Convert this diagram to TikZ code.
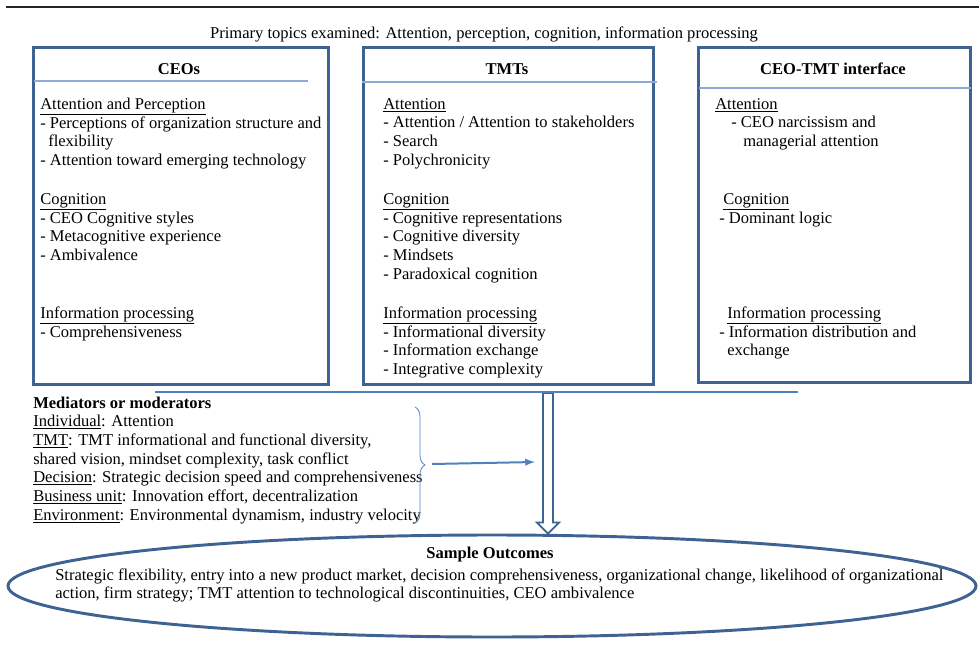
\documentclass[tikz,border=0pt]{standalone}
\usepackage{fontspec}
\setmainfont{Liberation Serif}
\usetikzlibrary{arrows,shapes.geometric,calc,decorations.pathreplacing}

\definecolor{boxblue}{RGB}{62,98,145}
\definecolor{rulelight}{RGB}{140,172,214}
\definecolor{linkblue}{RGB}{79,129,189}

\newcommand{\topic}[1]{\underline{#1}}
\newcommand{\itemsblock}[1]{\begin{tabular}[t]{@{}l@{}}#1\end{tabular}}

\tikzset{
  panel/.style={draw=boxblue, line width=2pt, anchor=north west, inner sep=0pt},
  head/.style={font=\fontsize{12.4}{14}\selectfont\bfseries, anchor=base, inner sep=0pt},
  body/.style={font=\fontsize{12.4}{14}\selectfont, anchor=base west, inner sep=0pt},
  sep/.style={draw=rulelight, line width=1.2pt},
  link/.style={draw=linkblue, line width=1.5pt},
}

\begin{document}
\begin{tikzpicture}[x=0.75pt, y=-0.75pt]
\useasboundingbox (0,0) rectangle (979,654);

\draw[line width=0.8pt, black!85] (6,7) -- (979,7);
\node[body, anchor=base] (topics) at (484,38) {Primary topics examined: Attention, perception, cognition, information processing};

% the three panels
\node[panel, minimum width=221.25pt, minimum height=252.75pt] (ceo) at (32,46) {};
\node[panel, minimum width=217.5pt, minimum height=252.75pt] (tmt) at (362,46) {};
\node[panel, minimum width=204pt, minimum height=251.25pt] (ctif) at (697,46) {};

\node[head] (ceoh) at (179,74) {CEOs};
\node[head] (tmth) at (507,74) {TMTs};
\node[head] (ctifh) at (833,74) {CEO-TMT interface};
\draw[sep] (34,81) -- (308,81);
\draw[sep] (362,82) -- (657,82);
\draw[sep] (699,88) -- (971,88);

% CEOs
\node[body] (ceo1) at (40,109) {\itemsblock{\topic{Attention and Perception}\\- Perceptions of organization structure and\\\hspace*{6pt}flexibility\\- Attention toward emerging technology}};
\node[body] (ceo2) at (40,204) {\itemsblock{\topic{Cognition}\\- CEO Cognitive styles\\- Metacognitive experience\\- Ambivalence}};
\node[body] (ceo3) at (40,318) {\itemsblock{\topic{Information processing}\\- Comprehensiveness}};

% TMTs
\node[body] (tmt1) at (383,109) {\itemsblock{\topic{Attention}\\- Attention / Attention to stakeholders\\- Search\\- Polychronicity}};
\node[body] (tmt2) at (383,204) {\itemsblock{\topic{Cognition}\\- Cognitive representations\\- Cognitive diversity\\- Mindsets\\- Paradoxical cognition}};
\node[body] (tmt3) at (383,318) {\itemsblock{\topic{Information processing}\\- Informational diversity\\- Information exchange\\- Integrative complexity}};

% CEO-TMT interface
\node[body] (ctif1) at (715,109) {\itemsblock{\topic{Attention}\\\hspace*{12pt}- CEO narcissism and\\\hspace*{21pt}managerial attention}};
\node[body] (ctif2) at (719,204) {\itemsblock{\hspace*{3pt}\topic{Cognition}\\- Dominant logic}};
\node[body] (ctif3) at (719,318) {\itemsblock{\hspace*{6pt}\topic{Information processing}\\- Information distribution and\\\hspace*{6pt}exchange}};

% mediators
\node[body] (med) at (33,408) {\itemsblock{\textbf{Mediators or moderators}\\\topic{Individual}: Attention\\\topic{TMT}: TMT informational and functional diversity,\\shared vision, mindset complexity, task conflict\\\topic{Decision}: Strategic decision speed and comprehensiveness\\\topic{Business unit}: Innovation effort, decentralization\\\topic{Environment}: Environmental dynamism, industry velocity}};

% outcomes
\node[draw=boxblue, line width=2.2pt, ellipse, minimum width=726pt, minimum height=76.5pt, inner sep=0pt] (outc) at (492,586) {};
\node[head] (outch) at (490,558) {Sample Outcomes};
\node[body] (outct) at (55,580) {\itemsblock{Strategic flexibility, entry into a new product market, decision comprehensiveness, organizational change, likelihood of organizational\\action, firm strategy; TMT attention to technological discontinuities, CEO ambivalence}};

\coordinate (split) at (548,392);
\coordinate (tipT) at (split |- outc.north);
\draw[boxblue, line width=1.3pt, fill=white] ($(split)+(-5,1)$) -- ($(tipT)+(-5,-11)$) -- ($(tipT)+(-11,-11)$) -- (tipT) -- ($(tipT)+(11,-11)$) -- ($(tipT)+(5,-11)$) -- ($(split)+(5,1)$) -- cycle;
\draw[link, line width=2.2pt] (155,392) -- (798,392);

\draw[link, line width=0.6pt, decorate, decoration={brace, amplitude=7.5pt}] (415,407) -- (415,523);
\coordinate (bracetip) at (432,464);
\coordinate (medhit) at (535,462);
\draw[link, -latex] (bracetip) -- (medhit);
\end{tikzpicture}
\end{document}
